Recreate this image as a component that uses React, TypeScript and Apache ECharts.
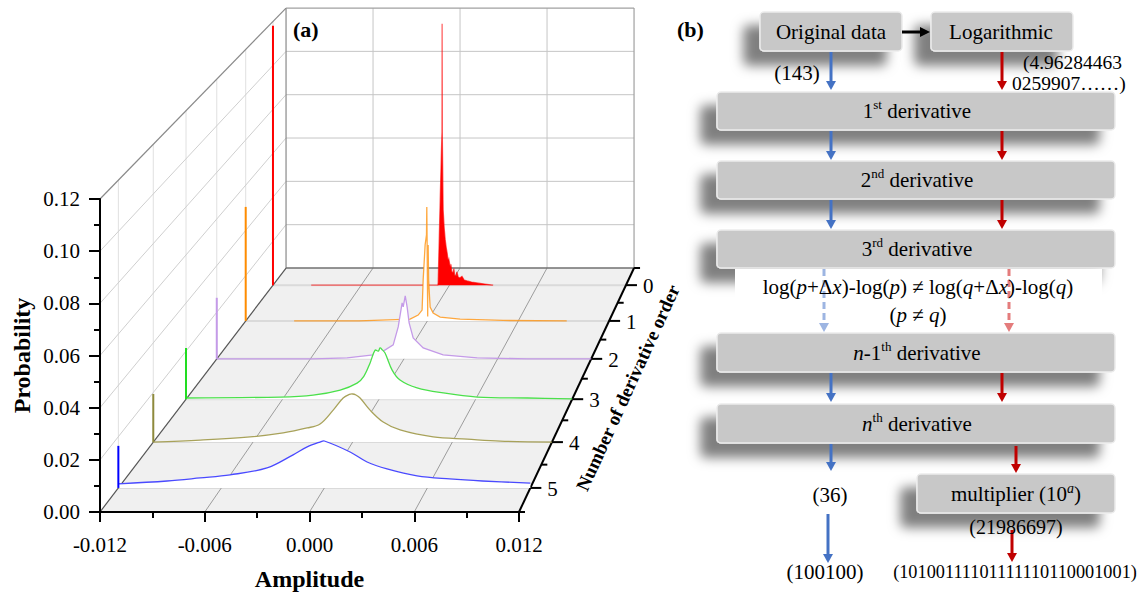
import React, { useEffect, useRef } from "react";
import * as echarts from "echarts";

// ---------------- Panel (a) data ----------------
const AMP_TICKS = [-0.012, -0.006, 0, 0.006, 0.012];
const PROB_TICKS = [0, 0.02, 0.04, 0.06, 0.08, 0.1, 0.12];
const ORDERS = [0, 1, 2, 3, 4, 5];
const ORDER_LABELS = ["0", "1", "2", "3", "4", "5"];

// order 0 (red)
const AMP_0 = [-0.0094, -0.0008, -0.00077, -0.0007, -0.00063, -0.00055, -0.00051, -0.0005, -0.00049, -0.00043, -0.00036, -0.00029, -0.00022, -0.00016, -0.0001, -0.00005, 0.00005, 0.0001, 0.00015, 0.00025, 0.0003, 0.00035, 0.00045, 0.0005, 0.00059, 0.0007, 0.00085, 0.001, 0.0012, 0.0015, 0.00188, 0.0024, 0.00297];
const PROB_0 = [0, 0, 0.001, 0.02, 0.039, 0.06, 0.0697, 0.1189, 0.0697, 0.0342, 0.026, 0.0206, 0.017, 0.0147, 0.0115, 0.012, 0.0083, 0.0095, 0.0062, 0.0056, 0.0075, 0.0045, 0.0042, 0.006, 0.0037, 0.0032, 0.004, 0.0023, 0.0019, 0.0014, 0.001, 0.0005, 0];
// order 1 (orange)
const AMP_1 = [-0.0088, -0.0045, -0.00114, -0.00061, -0.00035, -0.00028, -0.00015, -0.00006, -0.00004, -0.00002, 0.00002, 0.00003, 0.00005, 0.00008, 0.00018, 0.00038, 0.00084, 0.00216, 0.005, 0.0092];
const PROB_1 = [0, 0, 0.0008, 0.0026, 0.0048, 0.0181, 0.0336, 0.038, 0.0504, 0.036, 0.002, 0.03, 0.0336, 0.018, 0.0061, 0.0035, 0.0017, 0.0008, 0.0002, 0];
// order 2 (purple)
const AMP_2 = [-0.012, -0.0058, -0.00364, -0.00197, -0.00153, -0.00069, -0.00037, -0.00012, -0.00005, 0.00008, 0.0002, 0.00033, 0.00059, 0.00123, 0.00251, 0.00469, 0.0079, 0.012];
const PROB_2 = [0, 0, 0.0004, 0.0017, 0.0025, 0.006, 0.0137, 0.024, 0.0223, 0.027, 0.0223, 0.0154, 0.009, 0.0047, 0.0017, 0.0004, 0, 0];
// order 3 (green)
const AMP_3 = [-0.012, -0.00615, -0.0041, -0.00242, -0.00137, -0.00095, -0.00056, -0.00025, -0.00005, 0.00006, 0.0002, 0.00037, 0.00081, 0.0013, 0.00236, 0.00398, 0.0061, 0.0092, 0.012];
const PROB_3 = [0.0005, 0.0009, 0.0017, 0.0038, 0.0067, 0.0095, 0.0151, 0.0204, 0.02, 0.0213, 0.0205, 0.0192, 0.0121, 0.008, 0.0047, 0.0026, 0.0009, 0.0005, 0.0001];
// order 4 (olive)
const AMP_4 = [-0.012, -0.00918, -0.00617, -0.00418, -0.00274, -0.00196, -0.00117, -0.00057, -0.0002, 0, 0.0002, 0.00045, 0.00105, 0.00184, 0.00286, 0.00485, 0.0069, 0.00888, 0.012];
const PROB_4 = [0, 0.0008, 0.0021, 0.0037, 0.0057, 0.0073, 0.0129, 0.0178, 0.0192, 0.0194, 0.019, 0.0178, 0.0129, 0.0081, 0.0049, 0.0021, 0.0012, 0.0004, 0];
// order 5 (blue)
const AMP_5 = [-0.012, -0.00916, -0.00724, -0.00549, -0.00334, -0.00182, -0.001, -0.00025, 0, 0.0015, 0.00249, 0.00365, 0.0054, 0.0073, 0.0092, 0.012];
const PROB_5 = [0.0016, 0.0027, 0.0039, 0.0051, 0.0078, 0.0129, 0.016, 0.0179, 0.0183, 0.014, 0.0101, 0.0074, 0.0047, 0.0035, 0.0027, 0.0019];

// projections of each curve onto the left wall (max probability)
const WALL_MAX = [0.118, 0.0504, 0.0262, 0.0213, 0.0194, 0.0164];

const CURVE_AMPS = [AMP_0, AMP_1, AMP_2, AMP_3, AMP_4, AMP_5];
const CURVE_PROBS = [PROB_0, PROB_1, PROB_2, PROB_3, PROB_4, PROB_5];

// ---------------- styles / layout ----------------
const SERIF = "Liberation Serif";
const LINE_COLORS = ["rgba(255,0,0,0.6)", "rgba(255,140,0,0.75)", "#c49ae8", "#4be04b", "#a8a25a", "#4a4aff"];
const WALL_COLORS = ["#ff0000", "#ff8c00", "#c49ae8", "#22dd22", "#8e8a3c", "#0000ff"];
const FILL_COLORS = ["#ff0000", "#ffffff", "#ffffff", "#ffffff", "#ffffff", "#ffffff"];
const SMOOTH = [0, 0, 0, 0.35, 0.35, 0.35];
const VANISH = [1198, -928];
const DEPTH_K = 0.034;
const DEPTH_FRONT = 5.5;
const DEPTH_BACK = -0.5;

function makeProj(api: any) {
  return (a: number, p: number, o: number) => {
    const c = api.coord([a, p]);
    const s = 1 / (1 + DEPTH_K * (DEPTH_FRONT - o));
    return [VANISH[0] + s * (c[0] - VANISH[0]), VANISH[1] + s * (c[1] - VANISH[1])];
  };
}

function seg(p1: number[], p2: number[], stroke: string, lw: number) {
  return { type: "line", silent: true, shape: { x1: p1[0], y1: p1[1], x2: p2[0], y2: p2[1] }, style: { stroke, lineWidth: lw } };
}

function renderFrame(params: any, api: any) {
  const P = makeProj(api);
  const aMin = AMP_TICKS[0];
  const aMax = AMP_TICKS[AMP_TICKS.length - 1];
  const pMax = PROB_TICKS[PROB_TICKS.length - 1];
  const inner = AMP_TICKS.slice(1, -1);
  const ch: any[] = [];
  ch.push({
    type: "polygon",
    silent: true,
    shape: { points: [P(aMin, 0, DEPTH_FRONT), P(aMax, 0, DEPTH_FRONT), P(aMax, 0, DEPTH_BACK), P(aMin, 0, DEPTH_BACK)] },
    style: { fill: "#f0f0f0" },
  });
  // back wall grid
  for (const a of inner) ch.push(seg(P(a, 0, DEPTH_BACK), P(a, pMax, DEPTH_BACK), "#c6c6c6", 1));
  for (const p of PROB_TICKS.slice(1, -1)) ch.push(seg(P(aMin, p, DEPTH_BACK), P(aMax, p, DEPTH_BACK), "#c6c6c6", 1));
  // left wall grid
  for (const o of ORDERS) ch.push(seg(P(aMin, 0, o), P(aMin, pMax, o), "#e0e0e0", 1));
  for (const p of PROB_TICKS.slice(1, -1)) ch.push(seg(P(aMin, p, DEPTH_FRONT), P(aMin, p, DEPTH_BACK), "#cfcfcf", 1));
  // floor grid
  for (const o of ORDERS) ch.push(seg(P(aMin, 0, o), P(aMax, 0, o), "#dadada", 2));
  for (const a of inner) ch.push(seg(P(a, 0, DEPTH_FRONT), P(a, 0, DEPTH_BACK), "#9c9c9c", 1));
  // box edges
  ch.push(seg(P(aMin, 0, DEPTH_BACK), P(aMin, pMax, DEPTH_BACK), "#8a8a8a", 1.2));
  ch.push(seg(P(aMin, pMax, DEPTH_BACK), P(aMax, pMax, DEPTH_BACK), "#a0a0a0", 1.2));
  ch.push(seg(P(aMax, 0, DEPTH_BACK), P(aMax, pMax, DEPTH_BACK), "#a0a0a0", 1.2));
  ch.push(seg(P(aMin, pMax, DEPTH_FRONT), P(aMin, pMax, DEPTH_BACK), "#8a8a8a", 1.2));
  ch.push(seg(P(aMin, 0, DEPTH_BACK), P(aMax, 0, DEPTH_BACK), "#707070", 1.5));
  ch.push(seg(P(aMin, 0, DEPTH_FRONT), P(aMin, 0, DEPTH_BACK), "#555555", 1.2));
  // depth axis
  ch.push(seg(P(aMax, 0, DEPTH_FRONT), P(aMax, 0, DEPTH_BACK), "#000000", 2));
  ORDERS.forEach((o, k) => {
    const q = P(aMax, 0, o);
    ch.push(seg(q, [q[0] + 11, q[1]], "#000000", 2));
    ch.push({
      type: "text",
      silent: true,
      x: q[0] + 17,
      y: q[1] + 1,
      style: { text: ORDER_LABELS[k], fill: "#000", fontSize: 21, fontFamily: SERIF, align: "left", verticalAlign: "middle" },
    });
  });
  for (let o = DEPTH_BACK; o <= DEPTH_FRONT + 1e-9; o += 1) {
    const q = P(aMax, 0, o);
    ch.push(seg(q, [q[0] + 6, q[1]], "#000000", 2));
  }
  const mid = P(aMax, 0, (DEPTH_FRONT + DEPTH_BACK) / 2);
  ch.push({
    type: "text",
    silent: true,
    x: mid[0] + 46,
    y: mid[1] + 9,
    rotation: 1.143,
    style: { text: "Number of derivative order", fill: "#000", fontSize: 19, fontWeight: "bold", fontFamily: SERIF, align: "center", verticalAlign: "middle" },
  });
  return { type: "group", children: ch };
}

function renderCurve(params: any, api: any) {
  const P = makeProj(api);
  const i = params.dataIndex;
  const o = ORDERS[i];
  const amps = CURVE_AMPS[i];
  const probs = CURVE_PROBS[i];
  const pts = amps.map((a, k) => P(a, probs[k], o));
  const aMin = AMP_TICKS[0];
  const base1 = P(amps[amps.length - 1], 0, o);
  const base0 = P(amps[0], 0, o);
  return {
    type: "group",
    children: [
      { type: "polygon", silent: true, shape: { points: pts.concat([base1, base0]), smooth: SMOOTH[i] ? 0 : 0 }, style: { fill: FILL_COLORS[i] } },
      { type: "polyline", silent: true, shape: { points: pts, smooth: SMOOTH[i] }, style: { stroke: LINE_COLORS[i], lineWidth: 1.3, fill: null } },
      seg(P(aMin, 0, o), P(aMin, WALL_MAX[i], o), WALL_COLORS[i], 2),
    ],
  };
}

// ---------------- Panel (b) flowchart ----------------
const BLUE = "#4472c4";
const RED = "#c00000";
const LBLUE = "#9db5e2";
const LRED = "#e47c7c";

function box(x: number, y: number, w: number, h: number) {
  return {
    type: "rect",
    z: 1,
    shape: { x, y, width: w, height: h, r: 4 },
    style: { fill: "#c8c8c8", stroke: "#ececec", lineWidth: 1.5, shadowBlur: 12, shadowOffsetX: -16, shadowOffsetY: 14, shadowColor: "rgba(0,0,0,0.5)" },
  };
}

function vArrow(x: number, y1: number, y2: number, color: string, dashed = false) {
  const head = 9;
  const ls: any = { stroke: color, lineWidth: 3 };
  if (dashed) ls.lineDash = [7, 4];
  return [
    { type: "line", z: 4, shape: { x1: x, y1, x2: x, y2: y2 - head + 1 }, style: ls },
    { type: "polygon", z: 4, shape: { points: [[x - 5, y2 - head], [x + 5, y2 - head], [x, y2]] }, style: { fill: color } },
  ];
}

const RICH = {
  n: { fontSize: 21, fontFamily: SERIF, fill: "#000", lineHeight: 26 },
  i: { fontSize: 21, fontFamily: SERIF, fontStyle: "italic", fill: "#000", lineHeight: 26 },
  s: { fontSize: 13, fontFamily: SERIF, fill: "#000", lineHeight: 16, verticalAlign: "top" },
  si: { fontSize: 14, fontFamily: SERIF, fontStyle: "italic", fill: "#000", lineHeight: 16, verticalAlign: "top" },
};

function txt(x: number, y: number, text: string, size = 21, align = "center", weight = "normal") {
  return { type: "text", z: 5, x, y, style: { text, fill: "#000", fontSize: size, fontWeight: weight, fontFamily: SERIF, align, verticalAlign: "middle" } };
}

function rtxt(x: number, y: number, text: string) {
  return { type: "text", z: 5, x, y, style: { text, rich: RICH, fill: "#000", fontSize: 21, fontFamily: SERIF, align: "center", verticalAlign: "middle" } };
}

function flowElements() {
  const els: any[] = [];
  els.push(box(760, 12, 142, 39));
  els.push(box(931, 12, 142, 39));
  els.push(box(717, 92, 398, 38));
  els.push(box(717, 161, 398, 38));
  els.push(box(717, 230, 398, 38));
  els.push(box(717, 333, 398, 39));
  els.push(box(717, 404, 398, 39));
  els.push(box(917, 474, 198, 39));
  // white band behind the inequality
  els.push({ type: "rect", z: 2, shape: { x: 735, y: 269, width: 367, height: 33 }, style: { fill: "#ffffff" } });

  els.push(txt(831, 32, "Original data"));
  els.push(txt(1001, 32, "Logarithmic"));
  els.push(rtxt(917, 111, "{n|1}{s|st}{n| derivative}"));
  els.push(rtxt(917, 180, "{n|2}{s|nd}{n| derivative}"));
  els.push(rtxt(917, 249, "{n|3}{s|rd}{n| derivative}"));
  els.push(rtxt(917, 353, "{i|n}{n|-1}{s|th}{n| derivative}"));
  els.push(rtxt(917, 424, "{i|n}{s|th}{n| derivative}"));
  els.push(rtxt(1016, 494, "{n|multiplier (10}{si|a}{n|)}"));

  // horizontal black arrow
  els.push({ type: "line", z: 4, shape: { x1: 902, y1: 32, x2: 921, y2: 32 }, style: { stroke: "#000", lineWidth: 3 } });
  els.push({ type: "polygon", z: 4, shape: { points: [[920, 27], [920, 37], [930, 32]] }, style: { fill: "#000" } });

  els.push(...vArrow(831, 52, 90, BLUE));
  els.push(...vArrow(1002, 52, 90, RED));
  els.push(...vArrow(831, 131, 160, BLUE));
  els.push(...vArrow(1002, 131, 160, RED));
  els.push(...vArrow(831, 200, 229, BLUE));
  els.push(...vArrow(1002, 200, 229, RED));
  els.push(...vArrow(824, 269, 332, LBLUE, true));
  els.push(...vArrow(1009, 269, 332, LRED, true));
  els.push(...vArrow(831, 373, 402, BLUE));
  els.push(...vArrow(1002, 373, 402, RED));
  els.push(...vArrow(831, 444, 471, BLUE));
  els.push(...vArrow(1016, 446, 473, RED));
  els.push(...vArrow(828, 514, 563, BLUE));
  els.push(...vArrow(1012, 530, 562, RED));

  els.push(txt(797, 73, "(143)"));
  els.push(txt(1023, 62, "(4.96284463", 19.5, "left"));
  els.push(txt(1012, 83, "0259907……)", 19.5, "left"));
  els.push(rtxt(918, 287, "{n|log(}{i|p}{n|+Δ}{i|x}{n|)-log(}{i|p}{n|) ≠ log(}{i|q}{n|+Δ}{i|x}{n|)-log(}{i|q}{n|)}"));
  els.push(rtxt(918, 315, "{n|(}{i|p}{n| ≠ }{i|q}{n|)}"));
  els.push(txt(830, 495, "(36)"));
  els.push(txt(1016, 527, "(21986697)", 20));
  els.push(txt(825, 572, "(100100)"));
  els.push(txt(1015, 572, "(10100111101111110110001001)", 18.3));

  els.push(txt(293, 29, "(a)", 22, "left", "bold"));
  els.push(txt(677, 29, "(b)", 22, "left", "bold"));
  return els;
}

export default function App() {
  const ref = useRef<HTMLDivElement>(null);
  useEffect(() => {
    if (!ref.current) return;
    const chart = echarts.init(ref.current, null, { renderer: "svg" });
    const option: any = {
      animation: false,
      backgroundColor: "#ffffff",
      textStyle: { fontFamily: SERIF },
      grid: { left: 100, top: 199, width: 419, height: 313 },
      xAxis: {
        type: "value",
        min: AMP_TICKS[0],
        max: AMP_TICKS[AMP_TICKS.length - 1],
        interval: 0.006,
        z: 6,
        axisLine: { show: true, onZero: false, lineStyle: { color: "#000", width: 2 } },
        axisTick: { show: true, length: 10, lineStyle: { color: "#000", width: 2 } },
        minorTick: { show: true, splitNumber: 2, length: 6, lineStyle: { color: "#000", width: 2 } },
        splitLine: { show: false },
        minorSplitLine: { show: false },
        axisLabel: { formatter: (v: number) => v.toFixed(3), fontSize: 21, fontFamily: SERIF, color: "#000", margin: 22 },
        name: "Amplitude",
        nameLocation: "middle",
        nameGap: 55,
        nameTextStyle: { fontSize: 24, fontWeight: "bold", fontFamily: SERIF, color: "#000" },
      },
      yAxis: {
        type: "value",
        min: PROB_TICKS[0],
        max: PROB_TICKS[PROB_TICKS.length - 1],
        interval: 0.02,
        z: 6,
        axisLine: { show: true, onZero: false, lineStyle: { color: "#000", width: 2 } },
        axisTick: { show: true, length: 11, lineStyle: { color: "#000", width: 2 } },
        minorTick: { show: true, splitNumber: 2, length: 6, lineStyle: { color: "#000", width: 2 } },
        splitLine: { show: false },
        minorSplitLine: { show: false },
        axisLabel: { formatter: (v: number) => v.toFixed(2), fontSize: 21, fontFamily: SERIF, color: "#000", margin: 20 },
        name: "Probability",
        nameLocation: "middle",
        nameGap: 66,
        nameTextStyle: { fontSize: 24, fontWeight: "bold", fontFamily: SERIF, color: "#000" },
      },
      series: [
        { type: "custom", name: "frame", coordinateSystem: "cartesian2d", silent: true, z: 1, data: [[0, 0]], renderItem: renderFrame },
        { type: "custom", name: "curves", coordinateSystem: "cartesian2d", silent: true, z: 2, data: ORDERS.map((o) => [0, 0, o]), renderItem: renderCurve },
      ],
      graphic: { elements: flowElements() },
    };
    chart.setOption(option);
    return () => chart.dispose();
  }, []);
  return <div ref={ref} style={{ position: "absolute", left: 0, top: 0, width: 1148, height: 597 }} />;
}
